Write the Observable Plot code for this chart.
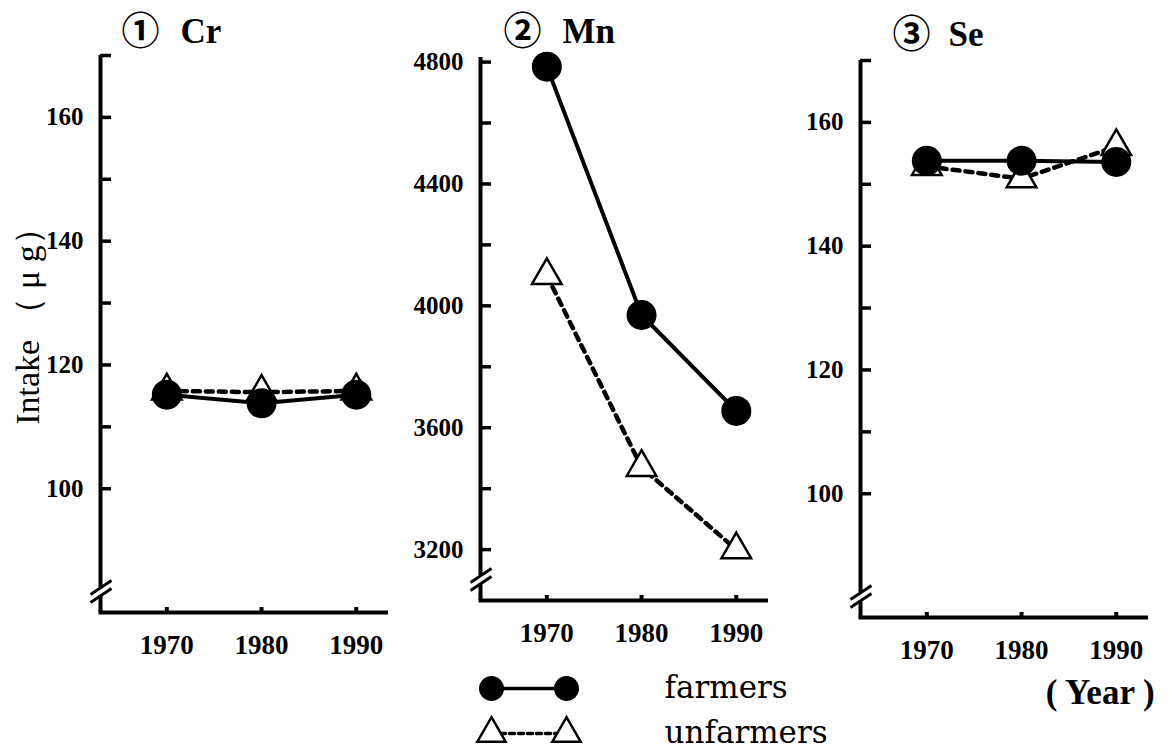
<!DOCTYPE html>
<html><head><meta charset="utf-8">
<script src="https://cdn.jsdelivr.net/npm/d3@7"></script>
<script src="https://cdn.jsdelivr.net/npm/@observablehq/plot@0.6"></script>
<style>
body{margin:0;background:#fff;}
#root{position:relative;width:1172px;height:751px;overflow:hidden;background:#fff;}
#root > svg, #root > div{position:absolute;}
</style></head><body><div id="root"></div>
<script>
// ---------- data ----------
const years = [1970, 1980, 1990];
const seriesNames = ["farmers", "unfarmers"];
const circledNumbers = ["\u2460", "\u2461", "\u2462"];
const elementNames = ["Cr", "Mn", "Se"];
const crFarmers = [115.2, 113.8, 115.2];
const crUnfarmers = [115.8, 115.6, 115.8];
const mnFarmers = [4785, 3970, 3655];
const mnUnfarmers = [4100, 3470, 3200];
const seFarmers = [153.8, 153.8, 153.6];
const seUnfarmers = [152.9, 150.9, 156.1];
const crTicks = [100, 110, 120, 130, 140, 150, 160, 170];
const crTickLabels = [100, 120, 140, 160];
const mnTicks = [3200, 3400, 3600, 3800, 4000, 4200, 4400, 4600, 4800];
const mnTickLabels = [3200, 3600, 4000, 4400, 4800];
const seTicks = [100, 110, 120, 130, 140, 150, 160, 170];
const seTickLabels = [100, 120, 140, 160];
const yAxisTitle = "Intake\u00a0\uFF08\u00a0\u03BC\u00a0g\uFF09";
const xAxisTitle = "( Year )";

// ---------- layout ----------
const serif = "'Liberation Serif', 'Times New Roman', serif";
const panels = [
  {num: circledNumbers[0], name: elementNames[0], farmers: crFarmers, unfarmers: crUnfarmers, ticks: crTicks, labels: crTickLabels,
   yDomain: [80, 170], left: 0, marginTop: 55, innerH: 557, numDx: 40, nameDx: 80, titleDy: -24, ylabel: true},
  {num: circledNumbers[1], name: elementNames[1], farmers: mnFarmers, unfarmers: mnUnfarmers, ticks: mnTicks, labels: mnTickLabels,
   yDomain: [3033, 4815], left: 380, marginTop: 57, innerH: 543, numDx: 42, nameDx: 82, titleDy: -26},
  {num: circledNumbers[2], name: elementNames[2], farmers: seFarmers, unfarmers: seUnfarmers, ticks: seTicks, labels: seTickLabels,
   yDomain: [80, 170], left: 760, marginTop: 60, innerH: 557, numDx: 51, nameDx: 88, titleDy: -25.5, xlabel: true}
];
const xDomain = [1963, 1993.4];
const marginLeft = 100, innerW = 288, marginRight = 12;

const root = document.getElementById("root");

for (const p of panels) {
  const rows = years.flatMap((yr, i) => [
    {year: yr, series: seriesNames[0], value: p.farmers[i]},
    {year: yr, series: seriesNames[1], value: p.unfarmers[i]}
  ]);
  const fRows = rows.filter(d => d.series === seriesNames[0]);
  const uRows = rows.filter(d => d.series === seriesNames[1]);
  const [x0, x1] = xDomain, [y0, y1] = p.yDomain;
  const ux = (x1 - x0) / innerW, uy = (y1 - y0) / p.innerH;
  const breakY = y0 + 21 * uy, gap = 4 * uy;
  const marginBottom = p.xlabel ? 100 : 50;
  const marks = [
    Plot.ruleY([y0], {x1: x0 - 1.5 * ux, x2: x1, stroke: "#000", strokeWidth: 4}),
    Plot.ruleX([x0], {y1: y0, y2: breakY - gap, stroke: "#000", strokeWidth: 4}),
    Plot.ruleX([x0], {y1: breakY + gap, y2: y1, stroke: "#000", strokeWidth: 4}),
    Plot.link([-gap, gap], {x1: x0 - 10 * ux, x2: x0 + 11 * ux,
      y1: d => breakY + d - 7 * uy, y2: d => breakY + d + 7 * uy, stroke: "#000", strokeWidth: 3}),
    Plot.ruleY(p.ticks, {x1: x0, x2: x0 + 11 * ux, stroke: "#000", strokeWidth: 3.5}),
    Plot.ruleX(years, {y1: y0, y2: y0 + 5 * uy, stroke: "#000", strokeWidth: 4}),
    Plot.axisY({ticks: p.labels, tickSize: 0, tickPadding: 17, tickFormat: d => String(d), label: null,
      fontSize: 25, fontWeight: "bold", fontFamily: serif}),
    Plot.axisX({ticks: years, tickSize: 0, tickPadding: 22, tickFormat: d => String(d), label: null,
      fontSize: 27, fontWeight: "bold", fontFamily: serif}),
    Plot.line(uRows, {x: "year", y: "value", stroke: "#000", strokeWidth: 4.5, strokeDasharray: "7,6"}),
    Plot.line(fRows, {x: "year", y: "value", stroke: "#000", strokeWidth: 4}),
    Plot.dot(uRows, {x: "year", y: "value", symbol: "triangle", r: 11, fill: "#fff", stroke: "#000", strokeWidth: 2.5}),
    Plot.dot(fRows, {x: "year", y: "value", r: 15, fill: "#000", stroke: "#000", strokeWidth: 0}),
    Plot.text([p.num], {frameAnchor: "top-left", dx: p.numDx, dy: p.titleDy, textAnchor: "middle", lineAnchor: "middle",
      fontSize: 38, fontWeight: "bold", fontFamily: "'Noto Sans CJK JP', sans-serif"}),
    Plot.text([p.name], {frameAnchor: "top-left", dx: p.nameDx, dy: p.titleDy, textAnchor: "start", lineAnchor: "middle",
      fontSize: 35, fontWeight: "bold", fontFamily: serif})
  ];
  if (p.ylabel) {
    marks.push(Plot.text([yAxisTitle], {frameAnchor: "left", rotate: -90, dx: -72, dy: -16,
      textAnchor: "middle", lineAnchor: "middle",
      fontSize: 34, fontWeight: "normal", fontFamily: serif}));
  }
  if (p.xlabel) {
    marks.push(Plot.text([xAxisTitle], {x: () => years[years.length - 1], frameAnchor: "bottom", dy: 75, dx: -16,
      lineAnchor: "middle",
      fontSize: 35, fontWeight: "bold", fontFamily: serif}));
  }
  const svg = Plot.plot({
    width: marginLeft + innerW + marginRight,
    height: p.marginTop + p.innerH + marginBottom,
    marginLeft, marginRight, marginTop: p.marginTop, marginBottom,
    x: {domain: xDomain, axis: null},
    y: {domain: p.yDomain, axis: null},
    style: {background: "transparent", color: "#000", fontFamily: serif, overflow: "visible"},
    marks
  });
  svg.style.left = p.left + "px";
  svg.style.top = "0px";
  root.appendChild(svg);
}

// ---------- legend ----------
const legendRows = seriesNames.flatMap(s => ["a", "b"].map(e => ({series: s, end: e})));
const legend = Plot.plot({
  width: 470, height: 91, margin: 0,
  x: {type: "point", domain: ["a", "b"], range: [51, 126], padding: 0, axis: null},
  y: {type: "point", domain: seriesNames, range: [28, 73], padding: 0, axis: null},
  style: {background: "transparent", color: "#000", overflow: "visible"},
  marks: [
    Plot.line(legendRows.filter(d => d.series === seriesNames[0]), {x: "end", y: "series", stroke: "#000", strokeWidth: 3.5}),
    Plot.line(legendRows.filter(d => d.series === seriesNames[1]), {x: "end", y: "series", stroke: "#000", strokeWidth: 3.5, strokeDasharray: "5,4"}),
    Plot.dot(legendRows.filter(d => d.series === seriesNames[1]), {x: "end", y: "series", symbol: "triangle", r: 10.5, fill: "#fff", stroke: "#000", strokeWidth: 2.5}),
    Plot.dot(legendRows.filter(d => d.series === seriesNames[0]), {x: "end", y: "series", r: 12.5, fill: "#000"}),
    Plot.text(seriesNames, {y: d => d, text: d => d, frameAnchor: "left", dx: 224, textAnchor: "start", lineAnchor: "middle",
      fontSize: 31, fontFamily: "'DejaVu Serif', serif"})
  ]
});
legend.style.left = "440px";
legend.style.top = "660px";
root.appendChild(legend);
</script></body></html>
